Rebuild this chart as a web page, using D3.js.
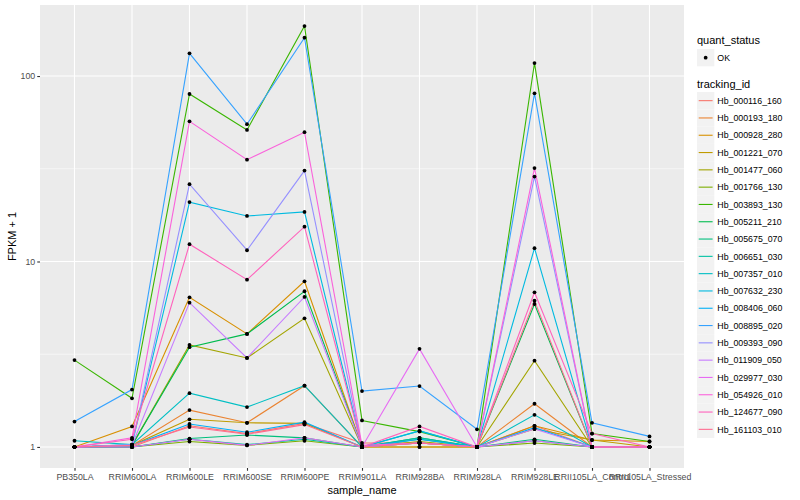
<!DOCTYPE html>
<html>
<head>
<meta charset="utf-8">
<script src="https://cdn.jsdelivr.net/npm/d3@7"></script>
<style>
  body { margin: 0; background: #fff; }
  text { font-family: "Liberation Sans", Arial, sans-serif; }
</style>
</head>
<body>
<svg id="chart" width="800" height="500"></svg>
<script>
const samples = ['PB350LA', 'RRIM600LA', 'RRIM600LE', 'RRIM600SE', 'RRIM600PE', 'RRIM901LA',
  'RRIM928BA', 'RRIM928LA', 'RRIM928LE', 'RRII105LA_Control', 'RRII105LA_Stressed'];

const genes = ['Hb_000116_160', 'Hb_000193_180', 'Hb_000928_280', 'Hb_001221_070', 'Hb_001477_060',
  'Hb_001766_130', 'Hb_003893_130', 'Hb_005211_210', 'Hb_005675_070', 'Hb_006651_030',
  'Hb_007357_010', 'Hb_007632_230', 'Hb_008406_060', 'Hb_008895_020', 'Hb_009393_090',
  'Hb_011909_050', 'Hb_029977_030', 'Hb_054926_010', 'Hb_124677_090', 'Hb_161103_010'];

const geneColors = ['#F8766D', '#EA8331', '#D89000', '#C09B00', '#A3A500', '#7CAE00', '#39B600',
  '#00BB4E', '#00BF7D', '#00C1A3', '#00BFC4', '#00BAE0', '#00B0F6', '#35A2FF', '#9590FF',
  '#C77CFF', '#E76BF3', '#FA62DB', '#FF62BC', '#FF6C91'];

// FPKM + 1, one row per gene, columns follow samples
const fpkm = [
  [1.00, 1.00, 1.30, 1.18, 1.34, 1.05, 1.05, 1.00, 1.30, 1.00, 1.00],
  [1.00, 1.02, 1.58, 1.35, 2.14, 1.00, 1.05, 1.00, 1.71, 1.00, 1.00],
  [1.00, 1.29, 6.41, 4.07, 7.82, 1.00, 1.00, 1.00, 1.30, 1.09, 1.07],
  [1.00, 1.02, 1.41, 1.35, 1.34, 1.00, 1.00, 1.00, 1.25, 1.09, 1.00],
  [1.00, 1.02, 3.55, 3.02, 4.94, 1.00, 1.07, 1.00, 2.92, 1.00, 1.00],
  [1.00, 1.00, 1.07, 1.02, 1.08, 1.00, 1.05, 1.00, 1.05, 1.00, 1.00],
  [2.94, 1.83, 80.0, 51.2, 186, 1.39, 1.21, 1.00, 117.5, 1.18, 1.07],
  [1.00, 1.02, 3.45, 4.07, 6.91, 1.00, 1.12, 1.00, 5.90, 1.00, 1.00],
  [1.00, 1.00, 1.11, 1.16, 1.12, 1.00, 1.10, 1.00, 1.10, 1.00, 1.00],
  [1.00, 1.00, 1.10, 1.03, 1.10, 1.00, 1.12, 1.00, 1.08, 1.00, 1.00],
  [1.08, 1.03, 1.95, 1.64, 2.14, 1.00, 1.22, 1.00, 1.49, 1.00, 1.00],
  [1.00, 1.03, 20.9, 17.6, 18.5, 1.00, 1.22, 1.00, 11.8, 1.00, 1.00],
  [1.00, 1.02, 1.33, 1.20, 1.36, 1.00, 1.10, 1.00, 1.27, 1.00, 1.00],
  [1.37, 2.04, 132.5, 55.0, 161, 2.00, 2.13, 1.245, 80.7, 1.35, 1.14],
  [1.00, 1.03, 26.1, 11.5, 30.9, 1.00, 1.05, 1.00, 28.7, 1.00, 1.00],
  [1.00, 1.02, 6.00, 3.02, 6.44, 1.00, 1.05, 1.00, 1.25, 1.00, 1.00],
  [1.00, 1.00, 1.10, 1.02, 1.12, 1.00, 3.38, 1.00, 1.08, 1.00, 1.00],
  [1.00, 1.12, 57.0, 35.4, 49.8, 1.02, 1.05, 1.00, 31.9, 1.00, 1.00],
  [1.00, 1.10, 12.4, 7.98, 15.4, 1.00, 1.29, 1.00, 6.82, 1.18, 1.00],
  [1.00, 1.02, 1.28, 1.17, 1.32, 1.00, 1.05, 1.00, 6.15, 1.00, 1.00]
];

const yTicks = [1, 10, 100];
const statusLevels = ['OK'];

const panel = { left: 40, right: 684, top: 5, bottom: 468 };
const svg = d3.select('#chart');

const series = genes.map((g, i) => ({
  gene: g,
  color: geneColors[i],
  values: samples.map((s, j) => ({ sample: s, value: fpkm[i][j] }))
}));

//scales
const x = d3.scalePoint().domain(samples).range([panel.left, panel.right]).padding(0.6);

const lo = Math.log10(d3.min(fpkm.flat()));
const hi = Math.log10(d3.max(fpkm.flat()));
const pad = (hi - lo) * 0.05;
const y = d3.scaleLog().domain([Math.pow(10, lo - pad), Math.pow(10, hi + pad)])
  .range([panel.bottom, panel.top]);

//panel background and grid
svg.append('rect')
  .attr('x', panel.left).attr('y', panel.top)
  .attr('width', panel.right - panel.left).attr('height', panel.bottom - panel.top)
  .attr('fill', '#EBEBEB');

const minorTicks = yTicks.map(t => t * Math.sqrt(10)).filter(t => t < y.domain()[1]);
svg.append('g').selectAll('line').data(minorTicks).join('line')
  .attr('x1', panel.left).attr('x2', panel.right)
  .attr('y1', d => y(d)).attr('y2', d => y(d))
  .attr('stroke', '#fff').attr('stroke-width', 0.55);

svg.append('g').selectAll('line').data(yTicks).join('line')
  .attr('x1', panel.left).attr('x2', panel.right)
  .attr('y1', d => y(d)).attr('y2', d => y(d))
  .attr('stroke', '#fff').attr('stroke-width', 1.1);

svg.append('g').selectAll('line').data(samples).join('line')
  .attr('x1', d => x(d)).attr('x2', d => x(d))
  .attr('y1', panel.top).attr('y2', panel.bottom)
  .attr('stroke', '#fff').attr('stroke-width', 1.1);

//lines
const line = d3.line().x(d => x(d.sample)).y(d => y(d.value));
svg.append('g').selectAll('path').data(series).join('path')
  .attr('fill', 'none')
  .attr('stroke', d => d.color)
  .attr('stroke-width', 1.1)
  .attr('d', d => line(d.values));

//points
svg.append('g').selectAll('circle').data(series.flatMap(d => d.values)).join('circle')
  .attr('cx', d => x(d.sample)).attr('cy', d => y(d.value))
  .attr('r', 1.9).attr('fill', '#000');

//axes
const xAxis = d3.axisBottom(x).tickSize(2.75).tickPadding(3);
const yAxis = d3.axisLeft(y).tickValues(yTicks).tickFormat(d3.format('d')).tickSize(2.75).tickPadding(2);

const xAxisGroup = svg.append('g').attr('transform', `translate(0,${panel.bottom})`).call(xAxis);
const yAxisGroup = svg.append('g').attr('transform', `translate(${panel.left},0)`).call(yAxis);

[xAxisGroup, yAxisGroup].forEach(g => {
  g.select('.domain').remove();
  g.selectAll('.tick line').attr('stroke', '#333333').attr('stroke-width', 1.1);
  g.selectAll('.tick text').attr('fill', '#4D4D4D').style('font-size', '8.8px')
    .style('font-family', '"Liberation Sans", Arial, sans-serif');
});

svg.append('text')
  .attr('x', (panel.left + panel.right) / 2).attr('y', 494)
  .attr('text-anchor', 'middle').style('font-size', '11px')
  .text('sample_name');

svg.append('text')
  .attr('transform', `translate(16,${(panel.top + panel.bottom) / 2}) rotate(-90)`)
  .attr('text-anchor', 'middle').style('font-size', '11px')
  .text('FPKM + 1');

//legends
const legend = svg.append('g').attr('transform', 'translate(697,0)');
const keySize = 17.3;

legend.append('text').attr('x', 0).attr('y', 44).style('font-size', '11px').text('quant_status');
const status = legend.selectAll('g.status').data(statusLevels).join('g')
  .attr('class', 'status')
  .attr('transform', (d, i) => `translate(0,${49 + i * keySize})`);
status.append('rect').attr('width', keySize).attr('height', keySize).attr('fill', '#F2F2F2');
status.append('circle').attr('cx', keySize / 2).attr('cy', keySize / 2).attr('r', 1.9).attr('fill', '#000');
status.append('text').attr('x', keySize + 3).attr('y', keySize / 2 + 3.2)
  .style('font-size', '8.8px').text(d => d);

legend.append('text').attr('x', 0).attr('y', 88).style('font-size', '11px').text('tracking_id');
const keys = legend.selectAll('g.key').data(series).join('g')
  .attr('class', 'key')
  .attr('transform', (d, i) => `translate(0,${92 + i * keySize})`);
keys.append('rect').attr('width', keySize).attr('height', keySize).attr('fill', '#F2F2F2');
keys.append('line')
  .attr('x1', 1.7).attr('x2', keySize - 1.7)
  .attr('y1', keySize / 2).attr('y2', keySize / 2)
  .attr('stroke', d => d.color).attr('stroke-width', 1.1);
keys.append('text').attr('x', keySize + 3).attr('y', keySize / 2 + 3.2)
  .style('font-size', '8.8px').text(d => d.gene);
</script>
</body>
</html>
